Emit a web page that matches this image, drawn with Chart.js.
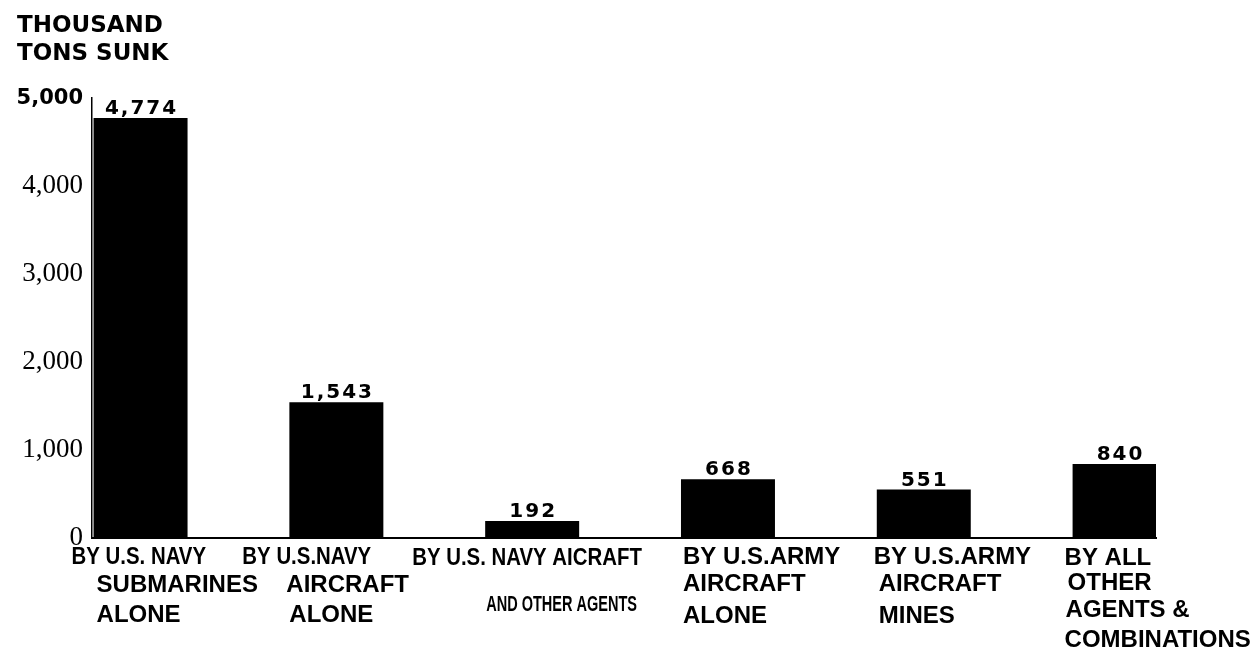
<!DOCTYPE html>
<html><head><meta charset="utf-8">
<script src="https://cdn.jsdelivr.net/npm/chart.js@4/dist/chart.umd.min.js"></script>
<style>html,body{margin:0;padding:0;background:#fff}#wrap{width:1257px;height:654px;position:relative}</style>
</head><body><div id="wrap"><canvas id="c"></canvas></div>
<script>
// ---- data ----
const categories = [
  ['BY U.S. NAVY','SUBMARINES','ALONE'],
  ['BY U.S.NAVY','AIRCRAFT','ALONE'],
  ['BY U.S. NAVY AICRAFT','AND OTHER AGENTS'],
  ['BY U.S.ARMY','AIRCRAFT','ALONE'],
  ['BY U.S.ARMY','AIRCRAFT','MINES'],
  ['BY ALL','OTHER','AGENTS &','COMBINATIONS']
];
const tonsSunk = [4774, 1543, 192, 668, 551, 840];
const yTicks = [0, 1000, 2000, 3000, 4000, 5000];
const titleLines = ['THOUSAND', 'TONS SUNK'];

// ---- label layout (styles/offsets, not data) ----
const lineFonts  = [['n','b','b'],['n','b','b'],['n','s'],['b','b','b'],['b','b','b'],['b','b','b','b']];
const lineIndent = [[-22,3,3],[-47,-3,0],[-73,1],[2,2,2],[-3,2,2],[-8,-5,-7,-8]];
const lineRows   = [[19,47,77],[19,47,77],[20,67],[19,46,78],[19,46,78],[20,45,72,102]];

const catLabelPlugin = {
  id: 'catLabels',
  afterDraw(chart) {
    const ctx = chart.ctx, meta = chart.getDatasetMeta(0), base = chart.chartArea.bottom;
    ctx.save();
    ctx.fillStyle = '#000'; ctx.textBaseline = 'middle'; ctx.textAlign = 'left';
    categories.forEach((lines, i) => {
      const bar = meta.data[i];
      const left = bar.x - bar.width / 2;
      lines.forEach((t, j) => {
        const f = lineFonts[i][j];
        const x = left + lineIndent[i][j], y = base + lineRows[i][j];
        ctx.save();
        if (f === 'b') {
          ctx.font = 'bold 24px "Liberation Sans", Arial, sans-serif';
          ctx.fillText(t, x, y);
        } else {
          const size = f === 'n' ? 24 : 22;
          const sx = f === 'n' ? 0.85 : 0.66;
          ctx.font = `bold ${size}px "Liberation Sans", Arial, sans-serif`;
          ctx.translate(x, y); ctx.scale(sx, 1);
          ctx.fillText(t, 0, 0);
        }
        ctx.restore();
      });
    });
    ctx.restore();
  }
};

const valueLabelPlugin = {
  id: 'valueLabels',
  afterDatasetsDraw(chart) {
    const ctx = chart.ctx, meta = chart.getDatasetMeta(0);
    ctx.save();
    ctx.fillStyle = '#000';
    ctx.font = 'bold 20px "DejaVu Sans", sans-serif';
    if ('letterSpacing' in ctx) ctx.letterSpacing = '2px';
    ctx.textAlign = 'center'; ctx.textBaseline = 'alphabetic';
    meta.data.forEach((bar, i) => {
      ctx.fillText(tonsSunk[i].toLocaleString('en-US'), bar.x + 1, bar.y - 4);
    });
    ctx.restore();
  }
};

new Chart(document.getElementById('c'), {
  type: 'bar',
  data: {
    datasets: [{
      data: tonsSunk.map((v, i) => ({ x: i, y: v })),
      backgroundColor: '#000',
      borderWidth: 0,
      barPercentage: 0.48,
      categoryPercentage: 1
    }]
  },
  options: {
    responsive: true,
    maintainAspectRatio: false,
    animation: false,
    layout: { padding: { left: 17, right: 101, top: 0, bottom: 0 } },
    plugins: {
      legend: { display: false },
      tooltip: { enabled: false },
      title: {
        display: true,
        text: titleLines,
        align: 'start',
        color: '#000',
        font: { family: '"DejaVu Sans", sans-serif', weight: 'bold', size: 23, lineHeight: 1.22 },
        padding: { top: 12, bottom: 30 }
      }
    },
    scales: {
      x: {
        type: 'linear',
        min: -0.248,
        max: 5.186,
        bounds: 'data',
        offset: false,
        grid: { display: false, drawTicks: false },
        border: { display: true, color: '#000', width: 2 },
        afterBuildTicks: s => { s.ticks = categories.map((_, i) => ({ value: i })); },
        ticks: { display: false },
        afterFit: s => { s.height = 116; }
      },
      y: {
        min: 0,
        max: 5000,
        grid: { display: false, drawTicks: false },
        border: { display: true, color: '#000', width: 1.5 },
        afterBuildTicks: s => { s.ticks = yTicks.map(v => ({ value: v })); },
        ticks: {
          padding: 9,
          color: '#000',
          callback: v => Number(v).toLocaleString('en-US'),
          font: c => (c.tick && c.tick.value === 5000)
            ? { family: '"DejaVu Sans", sans-serif', weight: 'bold', size: 21 }
            : { family: '"Liberation Serif", "Times New Roman", serif', size: 27 }
        },
        afterFit: s => { s.width = 75; }
      }
    }
  },
  plugins: [catLabelPlugin, valueLabelPlugin]
});
</script>
</body></html>
